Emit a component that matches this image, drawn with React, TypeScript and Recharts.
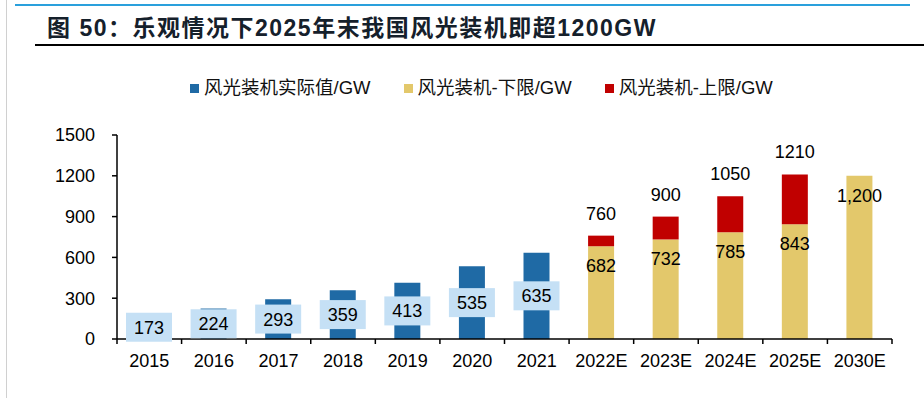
import React from 'react';
import { BarChart, Bar, XAxis, YAxis, LabelList } from 'recharts';

const YEARS = ['2015', '2016', '2017', '2018', '2019', '2020', '2021', '2022E', '2023E', '2024E', '2025E', '2030E'];
const ACTUAL = [173, 224, 293, 359, 413, 535, 635];
const LOWER = [682, 732, 785, 843, 1200];
const UPPER = [760, 900, 1050, 1210];
const Y_TICKS = [0, 300, 600, 900, 1200, 1500];

const SERIES = [
  { key: 'actual', label: '风光装机实际值/GW', color: '#1F6AA5' },
  { key: 'lower', label: '风光装机-下限/GW', color: '#E3C86B' },
  { key: 'gap', label: '风光装机-上限/GW', color: '#C00000' },
];

const NUM_FONT = "'Liberation Sans', Arial, 'Noto Sans CJK SC', sans-serif";

const data = YEARS.map((year, i) => {
  const j = i - ACTUAL.length;
  return {
    year,
    actual: i < ACTUAL.length ? ACTUAL[i] : null,
    lower: j >= 0 ? LOWER[j] : null,
    gap: j >= 0 && UPPER[j] != null ? UPPER[j] - LOWER[j] : null,
    upper: j >= 0 && UPPER[j] != null ? UPPER[j] : null,
  };
});

const W = 924;
const H = 398;
const X_H = 30;
const M = { top: 135, right: 32, bottom: 59 - X_H, left: 0 };
const Y_W = 117;
const BAND = (W - M.right - Y_W) / YEARS.length;

const XTick = ({ x, y, payload, index }) => (
  <g>
    {index === 0 && <line x1={x - BAND / 2} x2={x - BAND / 2} y1={y} y2={y + 5} stroke="#000" strokeWidth={1.5} />}
    <line x1={x + BAND / 2} x2={x + BAND / 2} y1={y} y2={y + 5} stroke="#000" strokeWidth={1.5} />
    <text x={x} y={y + 28} textAnchor="middle" fontSize={18} fill="#000" fontFamily={NUM_FONT}>
      {payload.value}
    </text>
  </g>
);

const BoxLabel = ({ x, y, width, height, value }) => {
  if (value == null) return null;
  const cx = x + width / 2;
  const cy = y + height / 2;
  return (
    <g>
      <rect x={cx - 23} y={cy - 14.5} width={46} height={29} fill="#C5E0F5" />
      <text x={cx} y={cy + 6.5} textAnchor="middle" fontSize={18} fill="#000" fontFamily={NUM_FONT}>
        {value}
      </text>
    </g>
  );
};

export default function App() {
  return (
    <div style={{ position: 'absolute', left: 0, top: 0, width: W, height: H, background: '#fff', overflow: 'hidden' }}>
      <div style={{ position: 'absolute', left: 6, top: 0, width: 1, height: H, background: '#d0d0d0' }} />
      <div style={{ position: 'absolute', left: 15, top: 4, width: 895, height: 2, background: '#2AA0DC' }} />
      <div
        style={{
          position: 'absolute', left: 47, top: 14, whiteSpace: 'nowrap', lineHeight: '28px',
          fontFamily: NUM_FONT, fontWeight: 700, fontSize: 23, letterSpacing: 1.5, color: '#15202b',
        }}
      >
        图 50：乐观情况下2025年末我国风光装机即超1200GW
      </div>
      <div style={{ position: 'absolute', left: 35, top: 44, width: 889, height: 2, background: '#000' }} />

      <div
        style={{
          position: 'absolute', left: 190, top: 77, display: 'flex', gap: 33,
          fontFamily: NUM_FONT, fontSize: 18.5, color: '#111', lineHeight: '22px',
        }}
      >
        {SERIES.map((s) => (
          <div key={s.key} style={{ display: 'flex', alignItems: 'center', gap: 5 }}>
            <span style={{ width: 9, height: 9, background: s.color, display: 'inline-block' }} />
            <span>{s.label}</span>
          </div>
        ))}
      </div>

      <div style={{ position: 'absolute', left: 0, top: 0 }}>
        <BarChart width={W} height={H} data={data} margin={M} barSize={26}>
          <XAxis
            dataKey="year"
            height={X_H}
            tick={<XTick />}
            tickLine={false}
            tickSize={0}
            tickMargin={0}
            interval={0}
            axisLine={{ stroke: '#000', strokeWidth: 1.5 }}
          />
          <YAxis
            width={Y_W}
            domain={[0, 1500]}
            ticks={Y_TICKS}
            tickSize={5}
            tickMargin={17}
            interval={0}
            tick={{ fontSize: 18, fill: '#000', fontFamily: NUM_FONT }}
            tickLine={{ stroke: '#000', strokeWidth: 1.5 }}
            axisLine={{ stroke: '#000', strokeWidth: 1.5 }}
          />
          <Bar dataKey="actual" stackId="a" fill={SERIES[0].color} isAnimationActive={false}>
            <LabelList dataKey="actual" content={<BoxLabel />} />
          </Bar>
          <Bar dataKey="lower" stackId="a" fill={SERIES[1].color} isAnimationActive={false}>
            <LabelList
              dataKey="lower"
              position="insideTop"
              offset={13}
              fontSize={18}
              fill="#000"
              fontFamily={NUM_FONT}
              formatter={(v) => (v == null ? '' : v >= 1000 ? Number(v).toLocaleString('en-US') : v)}
            />
          </Bar>
          <Bar dataKey="gap" stackId="a" fill={SERIES[2].color} isAnimationActive={false}>
            <LabelList
              dataKey="upper"
              position="top"
              offset={16}
              fontSize={18}
              fill="#000"
              fontFamily={NUM_FONT}
            />
          </Bar>
        </BarChart>
      </div>
    </div>
  );
}
